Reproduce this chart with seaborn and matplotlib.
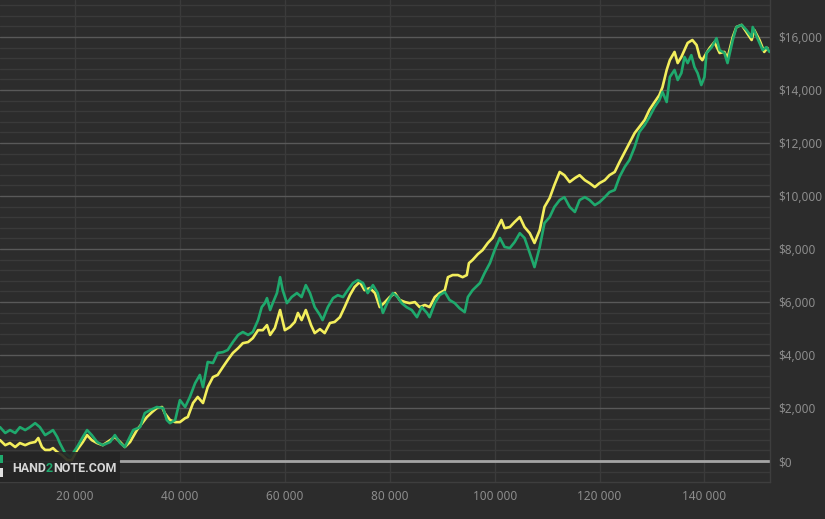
import matplotlib
matplotlib.use("Agg")
import matplotlib.pyplot as plt
import matplotlib.ticker as mticker
from matplotlib.patches import Rectangle
import pandas as pd
import seaborn as sns

# ---- data (hands played, winnings in $) ----
green_hands = [5700, 6700, 7600, 8600, 9500, 10500, 11400, 12400, 13300, 14300,
               15200, 15800, 16600, 17100, 18100, 19100, 20400, 21500, 22300, 23200,
               24200, 25300, 26700, 27600, 28600, 29500, 31100, 32400, 33300, 34300,
               35600, 36800, 37500, 38100, 39100, 40000, 41000, 41900, 42900, 43800,
               44400, 45300, 46300, 47200, 48200, 49100, 50100, 51100, 52000, 53000,
               53900, 54900, 55600, 56200, 56600, 57200, 57700, 58500, 59100, 59600,
               60400, 61300, 62300, 63200, 64000, 64800, 65700, 66700, 67200, 68200,
               69200, 70100, 71100, 72000, 73000, 73900, 74900, 75800, 76800, 77700,
               78700, 79600, 80600, 81500, 82300, 83200, 84200, 85200, 86100, 87100,
               87600, 88600, 89500, 90500, 91400, 92400, 93300, 94300, 94900, 95800,
               97200, 98100, 99100, 100000, 101000, 101900, 102900, 103800, 104800, 105700,
               106700, 107600, 108600, 109500, 110500, 111400, 112400, 113300, 114300, 115300,
               116200, 117200, 118100, 119100, 120000, 121000, 121900, 122900, 123800, 124800,
               125700, 126700, 127600, 128600, 129500, 130500, 131400, 132000, 132800, 133400,
               134300, 134900, 135600, 136200, 136800, 137500, 138100, 138700, 139400, 140000,
               140400, 141400, 142300, 142900, 143800, 144400, 145400, 146100, 147100, 148000,
               149000, 149200, 150100, 151100, 151800, 152400]
green_won = [1280, 1060, 1170, 1060, 1280, 1170, 1280, 1430, 1280, 980,
             1090, 1170, 910, 680, 300, 150, 530, 910, 1170, 980,
             720, 600, 720, 980, 680, 530, 1170, 1280, 1810, 1920,
             2040, 2000, 1550, 1430, 1550, 2300, 2040, 2420, 2940, 3250,
             2790, 3740, 3700, 4080, 4110, 4190, 4490, 4760, 4870, 4760,
             4870, 5320, 5810, 5960, 6150, 5700, 5960, 6340, 6940, 6450,
             5960, 6190, 6340, 6190, 6640, 6340, 5810, 5510, 5320, 5810,
             6150, 6260, 6190, 6450, 6720, 6830, 6720, 6340, 6640, 6340,
             5590, 6000, 6340, 6190, 5960, 5810, 5700, 5430, 5810, 5590,
             5430, 5960, 6260, 6380, 6080, 5960, 5770, 5620, 6190, 6450,
             6720, 7100, 7470, 7960, 8420, 8080, 8040, 8260, 8600, 8420,
             7850, 7320, 8080, 8980, 9210, 9590, 9850, 9960, 9590, 9400,
             9850, 9960, 9850, 9660, 9770, 9960, 10150, 10230, 10720, 11100,
             11360, 11850, 12420, 12680, 12980, 13360, 13620, 13930, 13550, 14490,
             14760, 14380, 14640, 15250, 15020, 15320, 14870, 14640, 14190, 14490,
             15400, 15620, 15960, 15510, 15400, 15020, 15890, 16380, 16460, 16270,
             16000, 16380, 15960, 15510, 15620, 15440]

yellow_hands = [5700, 6700, 7600, 8600, 9500, 10500, 11400, 12400, 13000, 13700,
                14300, 15200, 15800, 16600, 17500, 18500, 19400, 20400, 21500, 22300,
                23200, 24200, 25300, 26700, 27600, 28600, 29500, 30500, 31800, 32800,
                33700, 34700, 35600, 36600, 37100, 38100, 39100, 40000, 41000, 41500,
                42500, 43400, 44400, 45300, 46300, 47200, 48200, 49100, 50100, 51100,
                52000, 53000, 53900, 54900, 55800, 56600, 57200, 58100, 59100, 60000,
                61000, 61900, 62500, 63200, 64000, 65000, 65700, 66700, 67600, 68600,
                69500, 70500, 71400, 72400, 73300, 74300, 75200, 76200, 77200, 78100,
                79100, 80000, 81000, 81900, 82900, 83800, 84800, 85700, 86700, 87600,
                88600, 89500, 90500, 91100, 92000, 93000, 93900, 94700, 95100, 95800,
                96800, 97700, 98700, 99600, 100600, 101300, 101900, 102900, 103800, 104800,
                105700, 106700, 107600, 108600, 109500, 110500, 111400, 112400, 113300, 114300,
                115300, 116200, 117200, 118100, 119100, 120000, 121000, 121900, 122900, 123800,
                124800, 125700, 126700, 127600, 128600, 129500, 130500, 131400, 132000, 132800,
                133400, 134300, 134900, 135600, 136200, 136800, 137700, 138500, 139100, 139600,
                140400, 141000, 141900, 142900, 143800, 144400, 145400, 146100, 147100, 148000,
                149000, 149500, 150500, 151400, 152000]
yellow_won = [790, 600, 680, 530, 680, 600, 680, 720, 870, 530,
              420, 420, 490, 340, 230, 40, 40, 420, 720, 980,
              790, 680, 600, 790, 910, 720, 530, 720, 1170, 1430,
              1660, 1850, 2000, 2040, 1810, 1550, 1470, 1470, 1620, 1660,
              2190, 2420, 2190, 2790, 3170, 3250, 3550, 3810, 4080, 4260,
              4450, 4490, 4640, 4940, 4940, 5130, 4760, 5020, 5700, 4940,
              5060, 5250, 5590, 5320, 5700, 5130, 4830, 4980, 4830, 5210,
              5250, 5430, 5810, 6260, 6570, 6760, 6450, 6530, 6340, 5810,
              6000, 6190, 6340, 6080, 6000, 5960, 6000, 5810, 5890, 5810,
              6190, 6340, 6450, 6940, 7020, 7020, 6940, 7020, 7470, 7590,
              7810, 7960, 8230, 8420, 8830, 9100, 8790, 8830, 9020, 9210,
              8830, 8600, 8230, 8720, 9590, 9930, 10420, 10910, 10790, 10530,
              10680, 10790, 10600, 10490, 10340, 10490, 10600, 10790, 10910, 11280,
              11660, 12000, 12380, 12610, 12870, 13250, 13550, 13810, 14110, 14760,
              15130, 15440, 15020, 15250, 15510, 15780, 15890, 15700, 15250, 15130,
              15400, 15590, 15810, 15400, 15440, 15210, 16000, 16380, 16460, 16190,
              15890, 16270, 15890, 15440, 15590]

y_ticks = list(range(0, 16001, 2000))
x_ticks = list(range(20000, 140001, 20000))

BG = "#2c2c2c"
GREEN = "#1fa96d"
YELLOW = "#f3ee5c"
LABEL = "#8c8c8c"

sns.set_theme(style="dark")
plt.rcParams["font.family"] = ["Noto Sans", "DejaVu Sans"]

fig = plt.figure(figsize=(8.25, 5.19), dpi=100, facecolor=BG)
ax = fig.add_axes([0.0, 37 / 519, 770 / 825, 482 / 519])
ax.set_facecolor(BG)

df_y = pd.DataFrame({"hands": yellow_hands, "won": yellow_won})
df_g = pd.DataFrame({"hands": green_hands, "won": green_won})
sns.lineplot(data=df_y, x="hands", y="won", color=YELLOW, lw=1.9,
             estimator=None, ax=ax, zorder=4)
sns.lineplot(data=df_g, x="hands", y="won", color=GREEN, lw=1.9,
             estimator=None, ax=ax, zorder=5)

ax.set_xlim(5700, 152500)
ax.set_ylim(-790, 17400)

# grid: major every $2000, minor every $400, verticals at x ticks
ax.yaxis.set_major_locator(mticker.FixedLocator(y_ticks))
ax.yaxis.set_minor_locator(mticker.MultipleLocator(400))
ax.xaxis.set_major_locator(mticker.FixedLocator(x_ticks))
ax.grid(True, which="major", axis="y", color="#595959", lw=1.0, zorder=1)
ax.grid(True, which="minor", axis="y", color="#3a3a3a", lw=1.0, zorder=1)
ax.grid(True, which="major", axis="x", color="#3b3b3b", lw=1.0, zorder=1)
ax.axhline(0, xmin=120 / 770, color="#a5a5a5", lw=2.0, zorder=2)
ax.set_axisbelow(True)

ax.yaxis.tick_right()
ax.yaxis.set_major_formatter(mticker.FuncFormatter(lambda v, p: f"${int(v):,}"))
ax.xaxis.set_major_formatter(mticker.FuncFormatter(lambda v, p: f"{int(v):,}".replace(",", " ")))
ax.tick_params(axis="both", which="both", length=0, colors=LABEL, labelsize=8.5)
ax.tick_params(axis="y", pad=6)
ax.tick_params(axis="x", pad=6)
ax.set_xlabel("")
ax.set_ylabel("")

for side in ["top", "left"]:
    ax.spines[side].set_visible(False)
for side in ["right", "bottom"]:
    ax.spines[side].set_visible(True)
    ax.spines[side].set_color("#3e3e3e")
    ax.spines[side].set_linewidth(1.0)

# watermark box
ax.add_patch(Rectangle((0, 0), 120 / 770, 30 / 482, transform=ax.transAxes,
                       facecolor="#252525", alpha=0.9, edgecolor="none", zorder=6))
ax.add_patch(Rectangle((0, 19 / 482), 3 / 770, 8 / 482, transform=ax.transAxes,
                       facecolor=GREEN, edgecolor="none", zorder=7))
ax.add_patch(Rectangle((0, 5 / 482), 3 / 770, 9 / 482, transform=ax.transAxes,
                       facecolor="#e0e0e0", edgecolor="none", zorder=7))
wm = dict(fontsize=9, fontweight="bold", family=["Roboto", "DejaVu Sans"], zorder=8)
t1 = ax.text(12 / 770, 10 / 482, "HAND", transform=ax.transAxes, color="#d6d6d6",
             va="baseline", ha="left", **wm)
t2 = ax.annotate("2", xy=(1, 0), xycoords=t1, color=GREEN,
                 va="bottom", ha="left", **wm)
ax.annotate("NOTE.COM", xy=(1, 0), xycoords=t2, color="#d6d6d6",
            va="bottom", ha="left", **wm)

fig.savefig("out.png", dpi=100, facecolor=BG)
